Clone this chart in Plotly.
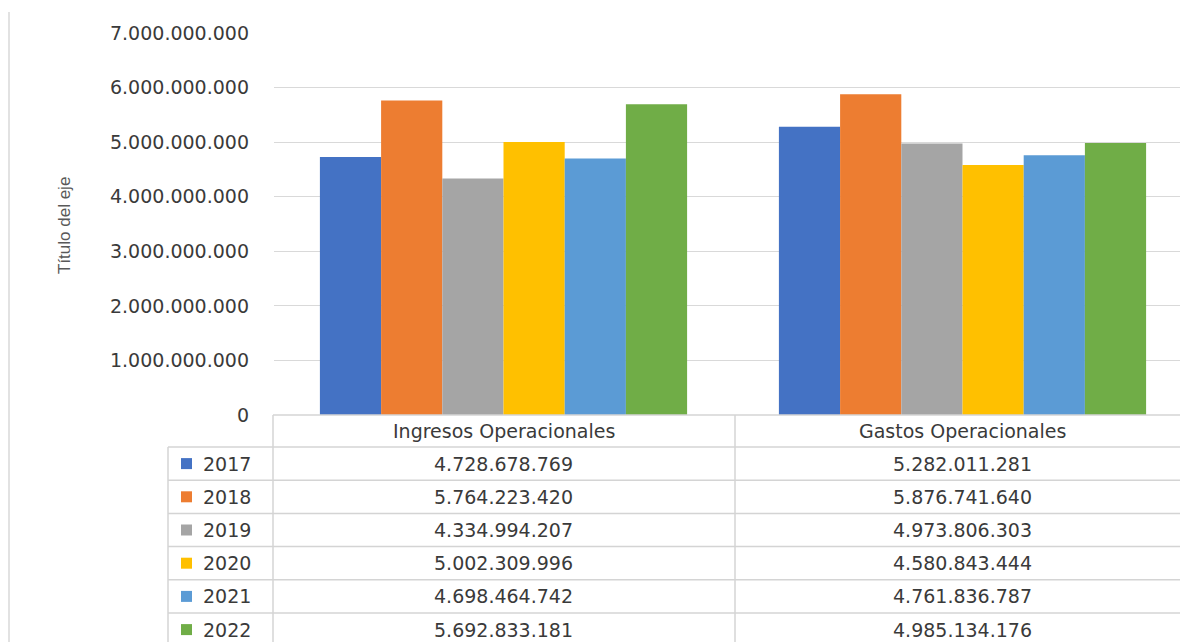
import plotly.graph_objects as go

categories = ["Ingresos Operacionales", "Gastos Operacionales"]
years = ["2017", "2018", "2019", "2020", "2021", "2022"]
ingresos = [4728678769, 5764223420, 4334994207, 5002309996, 4698464742, 5692833181]
gastos = [5282011281, 5876741640, 4973806303, 4580843444, 4761836787, 4985134176]
colors = ["#4472C4", "#ED7D31", "#A5A5A5", "#FFC000", "#5B9BD5", "#70AD47"]
tick_vals = [0, 1e9, 2e9, 3e9, 4e9, 5e9, 6e9, 7e9]

W, H = 1180, 642
L, T, B = 274, 33, 227
PW, PH = W - L, H - T - B
FONT = "DejaVu Sans"
FS = 19
TXT = "#3a3a3a"
LINE = "#d4d4d4"


def fx(px):
    return (px - L) / PW


def fy(py):
    return (H - B - py) / PH


def fmt(v):
    return f"{v:,}".replace(",", ".")


fig = go.Figure()
for i, y in enumerate(years):
    fig.add_trace(go.Bar(
        x=categories, y=[ingresos[i], gastos[i]], name=y,
        marker=dict(color=colors[i], line=dict(width=0)),
    ))

shapes = []
annotations = []

# table geometry
top = H - B
header_h = 32
row_h = 33.2
leg_left, col_left, col_mid = 168, 273, 735

# horizontal lines
for k in range(len(years) + 1):
    yy = top + header_h + row_h * k
    if yy > H:
        break
    shapes.append(dict(type="line", xref="paper", yref="paper",
                       x0=fx(leg_left), x1=1.0, y0=fy(yy), y1=fy(yy),
                       line=dict(color=LINE, width=1.5)))
shapes.append(dict(type="line", xref="paper", yref="paper",
                   x0=fx(col_left), x1=1.0, y0=fy(top), y1=fy(top),
                   line=dict(color=LINE, width=1.5)))
# vertical lines
for xx, y0 in [(leg_left, top + header_h), (col_left, top), (col_mid, top)]:
    shapes.append(dict(type="line", xref="paper", yref="paper",
                       x0=fx(xx), x1=fx(xx), y0=fy(y0), y1=fy(H + 5),
                       line=dict(color=LINE, width=1.5)))
# outer frame line on the left
shapes.append(dict(type="line", xref="paper", yref="paper",
                   x0=fx(9), x1=fx(9), y0=fy(12), y1=fy(H + 5),
                   line=dict(color="#d9d9d9", width=1.5)))

# header labels
for c in categories:
    annotations.append(dict(x=c, y=fy(top + header_h / 2), xref="x", yref="paper",
                            text=c, showarrow=False,
                            font=dict(family=FONT, size=FS, color=TXT),
                            xanchor="center", yanchor="middle"))

# rows
for i, y in enumerate(years):
    cy = top + header_h + row_h * i + row_h / 2
    shapes.append(dict(type="rect", xref="paper", yref="paper",
                       x0=fx(181), x1=fx(192), y0=fy(cy - 5.5), y1=fy(cy + 5.5),
                       fillcolor=colors[i], line=dict(width=0)))
    annotations.append(dict(x=fx(201), y=fy(cy), xref="paper", yref="paper",
                            text=y, showarrow=False,
                            font=dict(family=FONT, size=FS, color=TXT),
                            xanchor="left", yanchor="middle"))
    for c, vals in zip(categories, [ingresos, gastos]):
        annotations.append(dict(x=c, y=fy(cy), xref="x", yref="paper",
                                text=fmt(vals[i]), showarrow=False,
                                font=dict(family=FONT, size=FS, color=TXT),
                                xanchor="center", yanchor="middle"))

# axis title
annotations.append(dict(x=fx(65), y=fy(226), xref="paper", yref="paper",
                        text="Título del eje", textangle=-90, showarrow=False,
                        font=dict(family="Liberation Sans Narrow, Liberation Sans", size=17,
                                  color="#595959"),
                        xanchor="center", yanchor="middle"))

fig.update_layout(
    width=W, height=H,
    margin=dict(l=L, r=0, t=T, b=B),
    paper_bgcolor="white", plot_bgcolor="white",
    barmode="group", bargap=0.2, bargroupgap=0,
    showlegend=False,
    separators=",.",
    shapes=shapes, annotations=annotations,
    xaxis=dict(range=[-0.5, -0.5 + PW / 459], showticklabels=False,
               showgrid=False, zeroline=False, showline=False, fixedrange=True),
    yaxis=dict(range=[0, 7e9], tickvals=tick_vals, tickformat=",d",
               showgrid=True, gridcolor="#d9d9d9", gridwidth=1,
               zeroline=False, showline=False, ticks="",
               ticklabelstandoff=24,
               tickfont=dict(family=FONT, size=FS, color=TXT)),
)

fig.write_html("out.html")
